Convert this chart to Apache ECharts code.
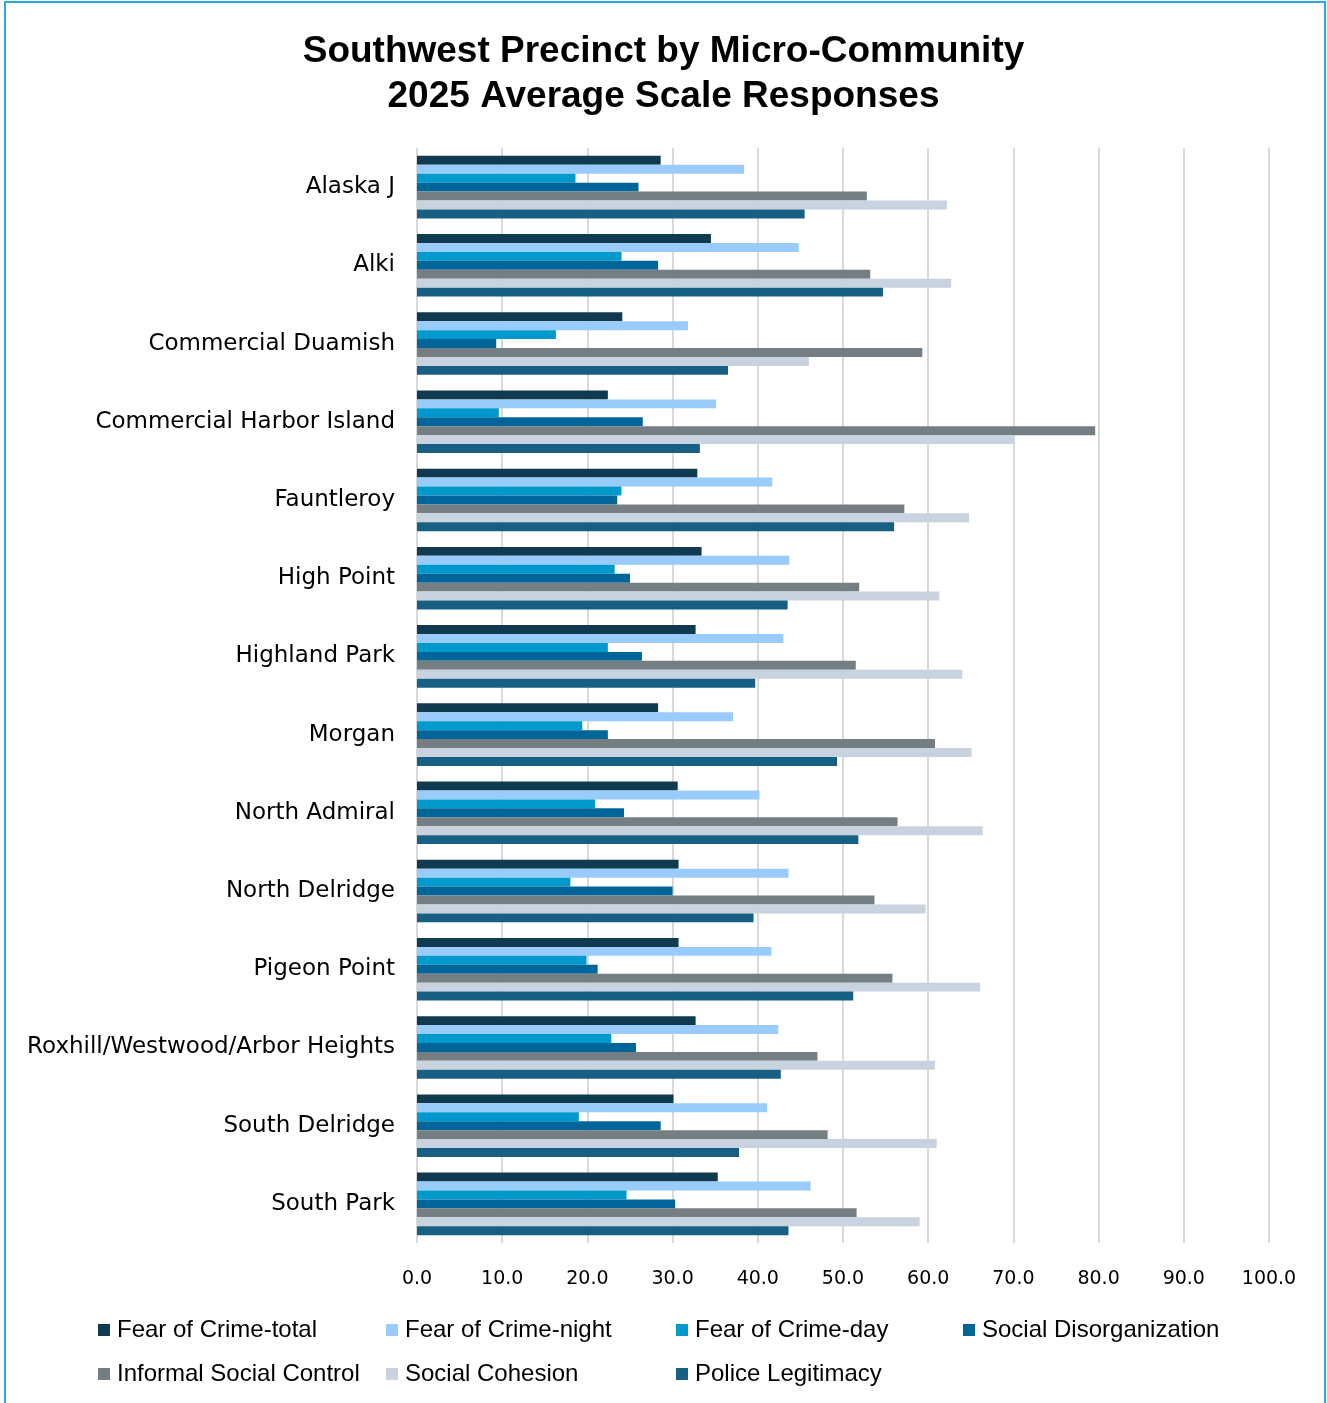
<!DOCTYPE html>
<html>
<head>
<meta charset="utf-8">
<script src="https://cdn.jsdelivr.net/npm/echarts@6/dist/echarts.min.js"></script>
<style>
html,body{margin:0;padding:0;background:#fff;}
#chart{width:1327px;height:1403px;}
</style>
</head>
<body>
<div id="chart"></div>
<script>
const categories = ["Alaska J","Alki","Commercial Duamish","Commercial Harbor Island","Fauntleroy","High Point","Highland Park","Morgan","North Admiral","North Delridge","Pigeon Point","Roxhill/Westwood/Arbor Heights","South Delridge","South Park"];
const seriesNames = ["Fear of Crime-total","Fear of Crime-night","Fear of Crime-day","Social Disorganization","Informal Social Control","Social Cohesion","Police Legitimacy"];
const fearTotal  = [28.6,34.5,24.1,22.4,32.9,33.4,32.7,28.3,30.6,30.7,30.7,32.7,30.1,35.3];
const fearNight  = [38.4,44.8,31.8,35.1,41.7,43.7,43.0,37.1,40.2,43.6,41.6,42.4,41.1,46.2];
const fearDay    = [18.6,24.0,16.3,9.6,24.0,23.2,22.4,19.4,20.9,18.0,19.9,22.8,19.0,24.6];
const socialDis  = [26.0,28.3,9.3,26.5,23.5,25.0,26.4,22.4,24.3,30.0,21.2,25.7,28.6,30.3];
const informal   = [52.8,53.2,59.3,79.6,57.2,51.9,51.5,60.8,56.4,53.7,55.8,47.0,48.2,51.6];
const cohesion   = [62.2,62.7,46.0,70.1,64.8,61.3,64.0,65.1,66.4,59.7,66.1,60.8,61.0,59.0];
const legitimacy = [45.5,54.7,36.5,33.2,56.0,43.5,39.7,49.3,51.8,39.5,51.2,42.7,37.8,43.6];
const xTicks = [0,10,20,30,40,50,60,70,80,90,100];

const values = [fearTotal,fearNight,fearDay,socialDis,informal,cohesion,legitimacy];
const colors = ["#0f3a50","#99ccfa","#0099cc","#006699","#757f83","#c8d3df","#175f83"];

const legendPos = [
  {left:98, top:1318},{left:386, top:1318},{left:676, top:1318},{left:963, top:1318},
  {left:98, top:1362},{left:386, top:1362},{left:676, top:1362}
];

const chart = echarts.init(document.getElementById('chart'), null, {renderer:'canvas'});
chart.setOption({
  animation:false,
  backgroundColor:'#ffffff',
  color: colors,
  title:{
    text:'Southwest Precinct by Micro-Community\n2025 Average Scale Responses',
    left:'center', top:24,
    textStyle:{fontFamily:'Liberation Sans, Arial, sans-serif', fontWeight:'bold', fontSize:37, lineHeight:45, color:'#000'}
  },
  graphic:[{
    type:'rect', shape:{x:5,y:2,width:1320,height:1420},
    style:{fill:'none', stroke:'#29abe2', lineWidth:2}, silent:true
  }],
  legend: seriesNames.map((n,i)=>({
    data:[n], left:legendPos[i].left, top:legendPos[i].top, padding:0,
    icon:'rect', itemWidth:12, itemHeight:12, itemGap:0,
    textStyle:{fontFamily:'Liberation Sans, Arial, sans-serif', fontSize:24, color:'#000', padding:[0,0,0,2]},
    selectedMode:false
  })),
  grid:{left:417, right:58, top:148, bottom:160, containLabel:false},
  xAxis:{
    type:'value', min:xTicks[0], max:xTicks[xTicks.length-1], interval:10,
    axisLine:{show:false}, axisTick:{show:false},
    splitLine:{show:true, lineStyle:{color:'#d9d9d9', width:2}},
    axisLabel:{formatter:v=>v.toFixed(1), fontFamily:'DejaVu Sans, sans-serif', fontSize:19, color:'#000', margin:27}
  },
  yAxis:{
    type:'category', data:categories, inverse:true,
    axisLine:{show:false}, axisTick:{show:false},
    axisLabel:{fontFamily:'DejaVu Sans, sans-serif', fontSize:23, color:'#000', margin:22}
  },
  series: seriesNames.map((n,i)=>({
    name:n, type:'bar', data:values[i],
    barGap:'0%', barCategoryGap:'20%',
    itemStyle:{color:colors[i]}
  }))
});
</script>
</body>
</html>
